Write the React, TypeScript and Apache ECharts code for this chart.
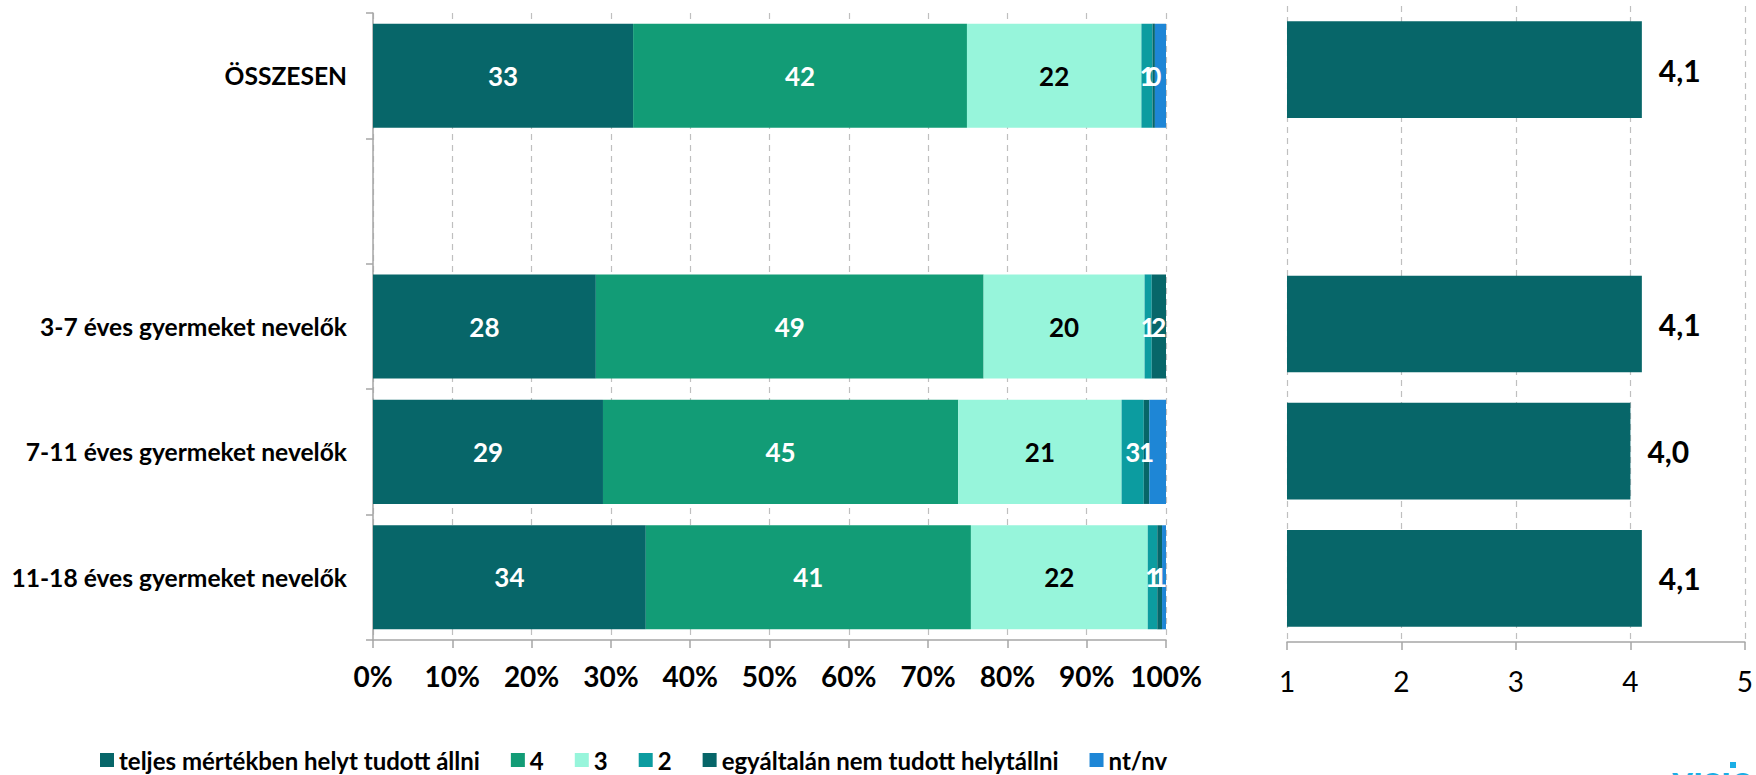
import React, { useEffect, useRef } from 'react';
import * as echarts from 'echarts';

const categories = ['ÖSSZESEN', '', '3-7 éves gyermeket nevelők', '7-11 éves gyermeket nevelők', '11-18 éves gyermeket nevelők'];
const seriesNames = ['teljes mértékben helyt tudott állni', '4', '3', '2', 'egyáltalán nem tudott helytállni', 'nt/nv'];
const fully = [32.8, null, 28.1, 29.0, 34.4];
const four = [42.1, null, 48.9, 44.8, 41.0];
const three = [22.0, null, 20.3, 20.6, 22.3];
const two = [1.4, null, 0.9, 2.8, 1.2];
const notAtAll = [0.3, null, 1.8, 0.7, 0.6];
const noAnswer = [1.4, null, 0, 2.1, 0.5];
const averages = [4.1, null, 4.1, 4.0, 4.1];
const percentTicks = { min: 0, max: 100, interval: 10 };
const scoreTicks = { min: 1, max: 5, interval: 1 };

const colors = ['#076669', '#129C76', '#97F5DB', '#0C9CA0', '#076669', '#1E86D6'];
const labelColors = ['#ffffff', '#ffffff', '#000000', '#ffffff', '#ffffff', null];
const seriesData = [fully, four, three, two, notAtAll, noAnswer];

const FONT = 'Lato';

export default function App() {
  const ref = useRef<HTMLDivElement>(null);
  useEffect(() => {
    document.body.style.margin = '0';
    const chart = echarts.init(ref.current!, null, { renderer: 'svg' });
    const stacked = seriesData.map((d, i) => ({
      name: seriesNames[i],
      type: 'bar',
      stack: 'total',
      xAxisIndex: 0,
      yAxisIndex: 0,
      data: d,
      barCategoryGap: '17%',
      itemStyle: { color: colors[i] },
      label: labelColors[i]
        ? {
            show: true,
            position: 'inside',
            color: labelColors[i],
            fontFamily: FONT,
            fontWeight: 'bold',
            fontSize: 26,
            formatter: (p: any) => (p.value == null || p.value === 0 ? '' : String(Math.round(p.value))),
          }
        : { show: false },
    }));
    chart.setOption({
      animation: false,
      textStyle: { fontFamily: FONT },
      legend: {
        left: 95,
        top: 743,
        itemWidth: 14,
        itemHeight: 14,
        itemGap: 31,
        icon: 'rect',
        data: seriesNames,
        textStyle: { fontFamily: FONT, fontWeight: 'bold', fontSize: 24, color: '#000' },
      },
      grid: [
        { left: 373, top: 13, width: 793, height: 627 },
        { left: 1287, top: 6, width: 461, height: 636 },
      ],
      xAxis: [
        {
          gridIndex: 0,
          type: 'value',
          ...percentTicks,
          axisLine: { show: true, lineStyle: { color: '#A6A6A6', width: 1.5 } },
          axisTick: { show: true, length: 8, lineStyle: { color: '#A6A6A6', width: 1.5 } },
          splitLine: { show: true, lineStyle: { color: '#BFBFBF', type: [6, 5], width: 1.2 } },
          axisLabel: { formatter: '{value}%', fontFamily: FONT, fontWeight: 'bold', fontSize: 28, color: '#000', margin: 22 },
        },
        {
          gridIndex: 1,
          type: 'value',
          ...scoreTicks,
          axisLine: { show: true, lineStyle: { color: '#A6A6A6', width: 1.5 } },
          axisTick: { show: true, length: 8, lineStyle: { color: '#A6A6A6', width: 1.5 } },
          splitLine: { show: true, lineStyle: { color: '#BFBFBF', type: [6, 5], width: 1.2 } },
          axisLabel: { fontFamily: FONT, fontSize: 28, color: '#000', margin: 25 },
        },
      ],
      yAxis: [
        {
          gridIndex: 0,
          type: 'category',
          inverse: true,
          data: categories,
          axisLine: { show: true, lineStyle: { color: '#A6A6A6', width: 1.5 } },
          axisTick: { show: true, length: 7, lineStyle: { color: '#A6A6A6', width: 1.5 } },
          axisLabel: { fontFamily: FONT, fontWeight: 'bold', fontSize: 24.6, color: '#000', margin: 26 },
        },
        {
          gridIndex: 1,
          type: 'category',
          inverse: true,
          data: categories,
          axisLine: { show: false },
          axisTick: { show: false },
          axisLabel: { show: false },
        },
      ],
      series: [
        ...stacked,
        {
          name: 'átlag',
          type: 'bar',
          xAxisIndex: 1,
          yAxisIndex: 1,
          data: averages,
          barCategoryGap: '24%',
          itemStyle: { color: '#076669' },
          label: {
            show: true,
            position: 'right',
            distance: 17,
            color: '#000',
            fontFamily: FONT,
            fontWeight: 'bold',
            fontSize: 30,
            formatter: (p: any) => (p.value == null ? '' : Number(p.value).toFixed(1).replace('.', ',')),
          },
        },
      ],
      graphic: [
        { type: 'rect', shape: { x: 1730, y: 762, width: 6, height: 6 }, style: { fill: '#1BAEE5' } },
        {
          type: 'text',
          x: 1672,
          y: 779,
          style: { text: 'vısıo', fill: '#1BAEE5', font: 'bold 40px Lato', verticalAlign: 'middle' },
        },
      ],
    });
    return () => chart.dispose();
  }, []);
  return <div ref={ref} style={{ width: 1756, height: 775 }} />;
}
